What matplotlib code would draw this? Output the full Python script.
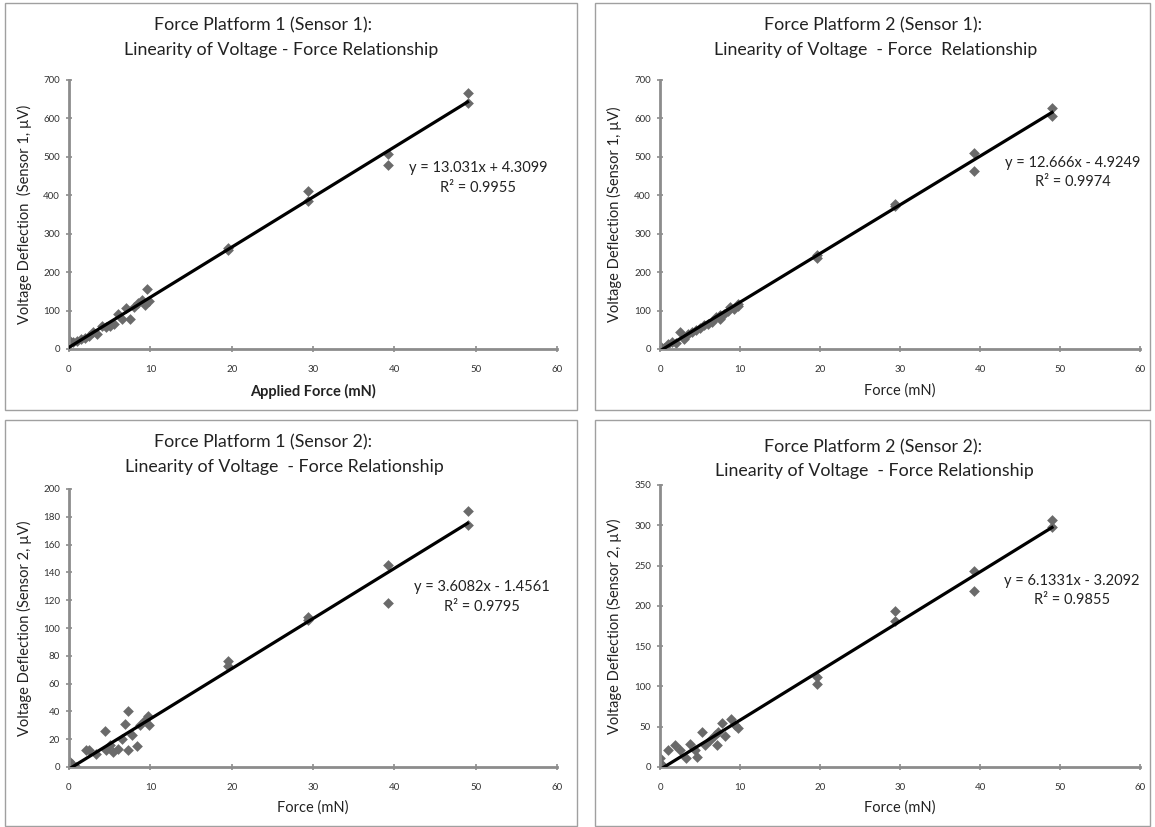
import matplotlib
matplotlib.use("Agg")
import matplotlib.pyplot as plt
from matplotlib.patches import Rectangle
import numpy as np

plt.rcParams['font.family'] = ['Lato', 'DejaVu Sans']

# force (mN) and voltage deflection (uV)
p1s1_x = [0, 0, 0.5, 1, 1.5, 2, 2.5, 3, 3.5, 4, 4.5, 5, 5.5, 6, 6.5, 7, 7.5, 8, 8.5, 9,
          9.3, 9.6, 9.8, 19.6, 19.6, 29.4, 29.4, 39.2, 39.2, 49, 49]
p1s1_y = [23, 12, 18, 22, 25, 28, 33, 43, 38, 60, 58, 60, 66, 90, 78, 106, 77, 110, 120, 128,
          114, 155, 124, 263, 258, 412, 384, 508, 480, 666, 640]

p2s1_x = [0, 0, 0.5, 1, 1.5, 2, 2.5, 3, 3.5, 4, 4.5, 5, 5.5, 6, 6.5, 7, 7.5, 7.5, 8, 8.5,
          8.8, 9.3, 9.8, 9.8, 19.6, 19.6, 29.4, 29.4, 39.2, 39.2, 49, 49]
p2s1_y = [8, 3, 2, 12, 18, 15, 45, 25, 40, 45, 50, 55, 62, 65, 70, 82, 88, 78, 90, 100,
          110, 105, 118, 112, 245, 236, 377, 372, 510, 463, 627, 606]

p1s2_x = [0, 0.4, 0.8, 2.1, 2.5, 3.3, 4.4, 4.6, 5.0, 5.4, 6.0, 6.5, 6.9, 7.3, 7.3, 7.7, 8.3,
          8.7, 9.3, 9.7, 9.8, 19.6, 19.6, 29.4, 29.4, 39.2, 39.2, 49, 49]
p1s2_y = [4, 2, 0, 12, 12, 9, 26, 12, 16, 11, 13, 20, 31, 40, 12, 23, 15,
          30, 34, 37, 30, 76, 73, 108, 106, 145, 118, 184, 174]

p2s2_x = [0, 0, 0.3, 1.0, 1.9, 2.5, 3.3, 3.75, 4.4, 4.6, 5.2, 5.6, 6.25, 6.9, 7.1, 7.3, 7.7,
          8.1, 8.9, 9.4, 9.8, 19.6, 19.6, 29.4, 29.4, 39.2, 39.2, 49, 49]
p2s2_y = [11, 5, 3, 21, 27, 21, 11, 29, 21, 13, 44, 27, 33, 40, 27, 44, 55,
          38, 60, 52, 48, 112, 103, 194, 181, 243, 218, 306, 298]

slopes = [13.031, 12.666, 3.6082, 6.1331]
intercepts = [4.3099, -4.9249, -1.4561, -3.2092]
r2 = [0.9955, 0.9974, 0.9795, 0.9855]
eq_text = ["y = 13.031x + 4.3099", "y = 12.666x - 4.9249",
           "y = 3.6082x - 1.4561", "y = 6.1331x - 3.2092"]

title_l1 = ["Force Platform 1 (Sensor 1):", "Force Platform 2 (Sensor 1):",
            "Force Platform 1 (Sensor 2):", "Force Platform 2 (Sensor 2):"]
title_l2 = ["Linearity of Voltage - Force Relationship",
            "Linearity of Voltage  - Force  Relationship",
            "Linearity of Voltage  - Force Relationship",
            "Linearity of Voltage  - Force Relationship"]
ylabels = ["Voltage Deflection  (Sensor 1, \u00b5V)", "Voltage Deflection (Sensor 1, \u00b5V)",
           "Voltage Deflection (Sensor 2, \u00b5V)", "Voltage Deflection (Sensor 2, \u00b5V)"]
xlabels = ["Applied Force (mN)", "Force (mN)", "Force (mN)", "Force (mN)"]
ymaxes = [700, 700, 200, 350]
ysteps = [100, 100, 20, 50]

xs = [p1s1_x, p2s1_x, p1s2_x, p2s2_x]
ys = [p1s1_y, p2s1_y, p1s2_y, p2s2_y]

W, H = 1155, 827
fig = plt.figure(figsize=(W / 100, H / 100), dpi=100)

# pixel layout: axes (left, right, bottom, top), frame, title lines
axes_px = [(69, 557, 349, 80), (660, 1140, 349, 80), (69, 557, 767, 489), (660, 1140, 767, 485)]
frames_px = [(5, 577, 3, 410), (595, 1150, 3, 410), (5, 577, 420, 826), (595, 1150, 420, 826)]
title1_px = [(263, 25), (873, 25), (263, 442), (873, 447)]
title2_px = [(281, 50), (876, 50), (284, 467), (874, 471)]
eq_pos = [(0.838, 0.673, 0.599), (0.86, 0.691, 0.621), (0.846, 0.647, 0.576), (0.858, 0.66, 0.592)]
xlabel_y = [391, 391, 808, 808]
ylabel_x = [24, 614, 24, 614]

gray = '#8c8c8c'
tc = '#222222'
for i in range(4):
    fl, fr, ft, fb = frames_px[i]
    fig.patches.append(Rectangle((fl / W, 1 - fb / H), (fr - fl) / W, (fb - ft) / H,
                                 transform=fig.transFigure, fill=False,
                                 edgecolor='#a0a0a0', linewidth=1.0))
    l, r, b, t = axes_px[i]
    ax = fig.add_axes([l / W, 1 - b / H, (r - l) / W, (b - t) / H])
    ax.scatter(xs[i], ys[i], marker='D', s=30, color='#6a6a6a', zorder=2, linewidths=0)
    lx = np.array([0, 49])
    ax.plot(lx, slopes[i] * lx + intercepts[i], color='black', lw=2.3, zorder=3)
    ax.set_xlim(0, 60)
    ax.set_ylim(0, ymaxes[i])
    ax.set_xticks(range(0, 61, 10))
    ax.set_yticks(range(0, ymaxes[i] + 1, ysteps[i]))
    for s in ['top', 'right']:
        ax.spines[s].set_visible(False)
    for s in ['left', 'bottom']:
        ax.spines[s].set_color(gray)
        ax.spines[s].set_linewidth(2.0)
    ax.tick_params(direction='inout', length=5, width=1.2, color=gray,
                   labelsize=7, labelcolor='#333333')
    ax.tick_params(axis='x', pad=9)
    ax.tick_params(axis='y', pad=4)
    ax.set_ylabel(ylabels[i], fontsize=10.5, color=tc)
    ax.yaxis.set_label_coords((ylabel_x[i] - l) / (r - l), 0.5)
    ax.yaxis.label.set_va('center')
    ax.set_xlabel(xlabels[i], fontsize=10.5, color=tc,
                  fontweight='bold' if i == 0 else 'normal')
    ax.xaxis.set_label_coords(0.5, -(xlabel_y[i] - b) / (b - t))
    ax.xaxis.label.set_va('center')
    ex, ey1, ey2 = eq_pos[i]
    ax.text(ex, ey1, eq_text[i], transform=ax.transAxes, ha='center', va='center',
            fontsize=10.5, color=tc)
    ax.text(ex, ey2, "R\u00b2 = %.4f" % r2[i], transform=ax.transAxes, ha='center',
            va='center', fontsize=10.5, color=tc)
    for (tx, ty), s in ((title1_px[i], title_l1[i]), (title2_px[i], title_l2[i])):
        fig.text(tx / W, 1 - ty / H, s, ha='center', va='center', fontsize=12.8, color=tc)

plt.savefig('out.png', dpi=100)
